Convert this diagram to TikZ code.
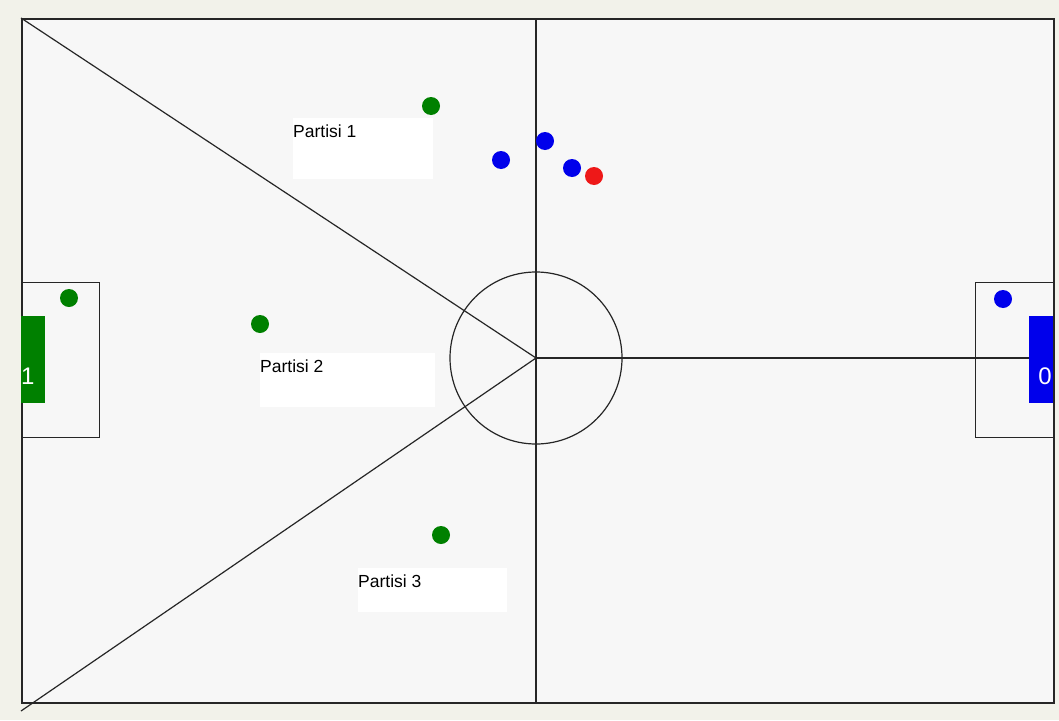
\documentclass[tikz,border=0pt]{standalone}
\usepackage{fontspec}
\setmainfont{Liberation Sans}
\usetikzlibrary{positioning,calc}
\definecolor{paper}{RGB}{242,242,234}
\definecolor{fieldbg}{RGB}{247,247,247}
\definecolor{tgreen}{RGB}{0,128,0}
\definecolor{tblue}{RGB}{0,0,235}
\definecolor{bred}{RGB}{238,24,24}

\begin{document}
\begin{tikzpicture}[x=1pt,y=-1pt,
    line/.style={draw=black!85,line width=1.2pt},
    dot/.style={circle,inner sep=0pt,minimum size=18pt},
    goalbox/.style={rectangle,line,minimum width=78pt,minimum height=155pt,anchor=north west},
    goal/.style={rectangle,inner sep=0pt,minimum width=24pt,minimum height=87pt,anchor=north west},
    score/.style={text=white,inner sep=0pt,font=\fontsize{24}{26}\selectfont},
    part/.style={rectangle,fill=white,inner sep=0pt,anchor=north west},
    ptext/.style={anchor=north west,inner xsep=0pt,inner ysep=7pt,text=black,
                  font=\fontsize{17.5}{20}\selectfont}]
    \fill[paper] (0,0) rectangle (1059,720);
    \useasboundingbox (0,0) rectangle (1059,720);
    \node[rectangle,draw=black!85,line width=2pt,fill=fieldbg,minimum width=1032pt,
          minimum height=684pt,anchor=north west] (field) at (21,18) {};
    \coordinate (c) at (536,358);
    \coordinate (tl) at (21,18);
    \coordinate (bl) at (21,711);
    \node[part,minimum width=140pt,minimum height=61pt,label={[ptext]north west:Partisi 1}] (p1) at (293,118) {};
    \node[part,minimum width=175pt,minimum height=54pt,label={[ptext]north west:Partisi 2}] (p2) at (260,353) {};
    \node[part,minimum width=149pt,minimum height=44pt,label={[ptext]north west:Partisi 3}] (p3) at (358,568) {};
    \draw[line] (c |- field.north) -- (c |- field.south);
    \draw[line] (tl) -- (c) -- (bl);
    \node[circle,line,minimum size=172pt] (circ) at (c) {};
    \node[goalbox] (boxl) at (21,282) {};
    \node[goalbox] (boxr) at (975,282) {};
    \node[goal,fill=tgreen] (gl) at (21,316) {};
    \node[goal,fill=tblue] (gr) at (1029,316) {};
    \draw[line] (c) -- (c -| gr.west);
    \node[score,anchor=west] (sl) at (21,376) {1};
    \node[score] (sr) at (1045,376) {0};
    \node[dot,fill=tgreen] (g1) at (431,106) {};
    \node[dot,fill=tgreen] (g2) at (69,298) {};
    \node[dot,fill=tgreen] (g3) at (260,324) {};
    \node[dot,fill=tgreen] (g4) at (441,535) {};
    \node[dot,fill=tblue] (b1) at (501,160) {};
    \node[dot,fill=tblue] (b2) at (545,141) {};
    \node[dot,fill=tblue] (b3) at (572,168) {};
    \node[dot,fill=tblue] (b4) at (1003,299) {};
    \node[dot,fill=bred] (ball) at (594,176) {};
\end{tikzpicture}
\end{document}
